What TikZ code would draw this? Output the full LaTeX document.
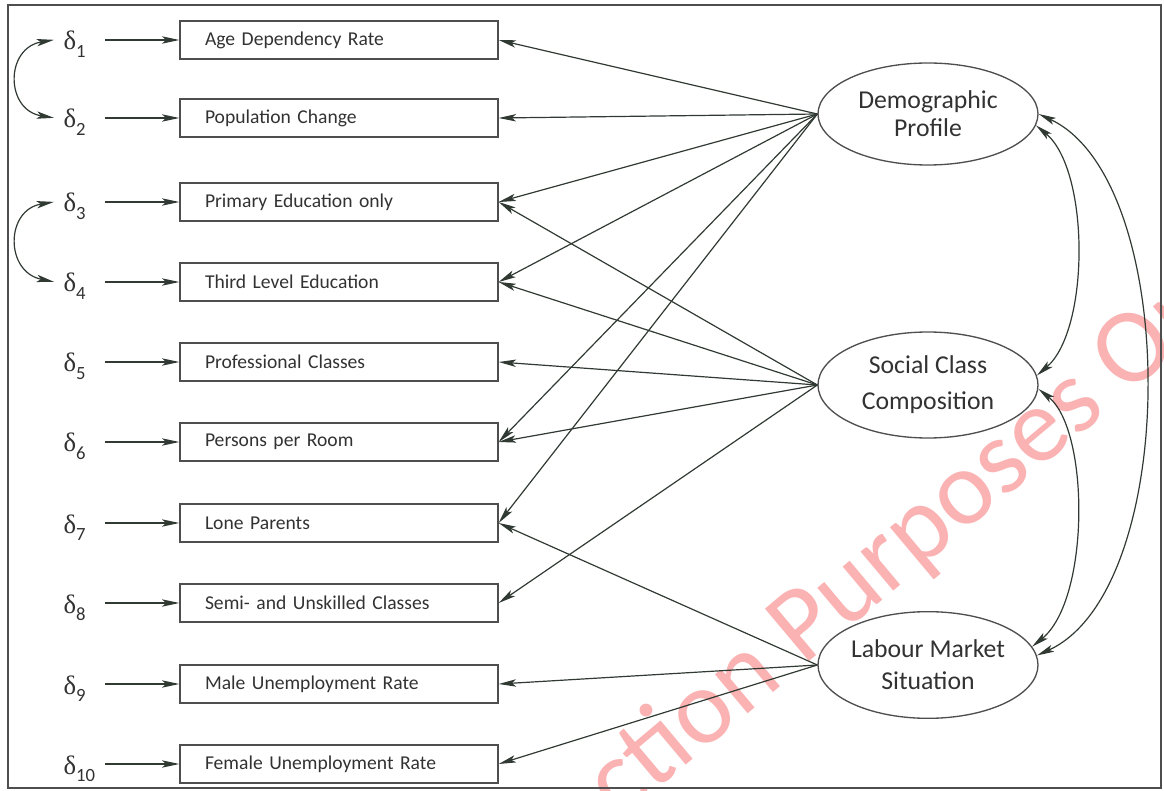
\documentclass[tikz,border=0pt]{standalone}
\usepackage{fontspec}
\setmainfont{Carlito}
\newfontfamily\dltfont{Liberation Serif}
\usepackage{tikz}
\usetikzlibrary{shapes.geometric,arrows.meta}
\definecolor{ink}{RGB}{48,58,50}
\definecolor{boxline}{RGB}{78,78,78}
\definecolor{txt}{RGB}{50,50,50}
\definecolor{wmred}{RGB}{250,178,178}
\newcommand{\errterm}[1]{{\dltfont\fontsize{20}{20}\selectfont δ}\raisebox{-5.5pt}{\fontsize{14}{14}\selectfont #1}}

\begin{document}
\begin{tikzpicture}[x=0.75pt,y=0.75pt,yscale=-1,xscale=1,
  indicator/.style={draw=boxline, line width=1pt, text width=201pt, inner xsep=18.75pt, inner ysep=0pt,
    minimum height=28.5pt, align=left, text=txt, font=\fontsize{14.7}{16}\selectfont},
  latent/.style={ellipse, draw=boxline, line width=1pt, minimum width=165pt, inner sep=0pt,
    align=center, text=txt, font=\fontsize{19.3}{24}\selectfont},
  err/.style={anchor=base west, inner xsep=7pt, inner ysep=0pt, text width=24pt, align=left, text=txt},
  path/.style={draw=ink, line width=0.9pt, -{Stealth[length=13pt,width=5.5pt,inset=3pt]}},
  cov/.style={draw=ink, line width=0.9pt, {Stealth[length=13pt,width=5.5pt,inset=3pt]}-{Stealth[length=13pt,width=5.5pt,inset=3pt]}}]
\useasboundingbox (0,0) rectangle (1164,791);

% watermark
\begin{scope}
\clip (0,0) rectangle (1164,791);
\draw (440,972) node [anchor=base west, rotate=40, text=wmred, inner sep=0pt, font=\fontsize{80}{80}\selectfont] (wm) {Inspection Purposes Only};
\end{scope}

%Shape: Frame
\draw [draw=boxline, line width=1.5pt] (8,5) rectangle (1161,788);

% Indicator boxes
\draw (339,40) node [indicator] (age) {Age Dependency Rate};
\draw (339,118) node [indicator] (pop) {Population Change};
\draw (339,202) node [indicator] (prim) {Primary Education only};
\draw (339,282) node [indicator] (third) {Third Level Education};
\draw (339,362) node [indicator] (prof) {Professional Classes};
\draw (339,442) node [indicator] (room) {Persons per Room};
\draw (339,523) node [indicator] (lone) {Lone Parents};
\draw (339,603) node [indicator] (semi) {Semi- and Unskilled Classes};
\draw (339,684) node [indicator] (male) {Male Unemployment Rate};
\draw (339,764) node [indicator] (female) {Female Unemployment Rate};

% Error terms
\draw (54,50) node [err] (d1) {\errterm{1}};
\draw (54,128) node [err] (d2) {\errterm{2}};
\draw (54,212) node [err] (d3) {\errterm{3}};
\draw (54,292) node [err] (d4) {\errterm{4}};
\draw (54,372) node [err] (d5) {\errterm{5}};
\draw (54,452) node [err] (d6) {\errterm{6}};
\draw (54,533) node [err] (d7) {\errterm{7}};
\draw (54,613) node [err] (d8) {\errterm{8}};
\draw (54,694) node [err] (d9) {\errterm{9}};
\draw (54,774) node [err] (d10) {\errterm{10}};

% Latent factors
\draw (928,114) node [latent, minimum height=76.5pt] (demo) {Demographic\\[-3pt]Profile};
\draw (928,385) node [latent, minimum height=79.5pt] (social) {Social Class\\[3pt]Composition};
\draw (928,665) node [latent, minimum height=80pt] (labour) {Labour Market\\Situation};

% Error paths
\draw [path] (d1.east |- age.west) -- (age.west);
\draw [path] (d2.east |- pop.west) -- (pop.west);
\draw [path] (d3.east |- prim.west) -- (prim.west);
\draw [path] (d4.east |- third.west) -- (third.west);
\draw [path] (d5.east |- prof.west) -- (prof.west);
\draw [path] (d6.east |- room.west) -- (room.west);
\draw [path] (d7.east |- lone.west) -- (lone.west);
\draw [path] (d8.east |- semi.west) -- (semi.west);
\draw [path] (d9.east |- male.west) -- (male.west);
\draw [path] (d10.east |- female.west) -- (female.west);

% Error covariances
\draw [cov] (d1.170) .. controls (5,48) and (5,110) .. (d2.170);
\draw [cov] (d3.170) .. controls (5,210) and (5,272) .. (d4.170);

% Loadings: Demographic Profile
\draw [path] (demo.west) -- (age.east);
\draw [path] (demo.west) -- (pop.east);
\draw [path] (demo.west) -- (prim.east);
\draw [path] (demo.west) -- (third.east);
\draw [path] (demo.west) -- (room.east);
\draw [path] (demo.west) -- (lone.east);
% Loadings: Social Class Composition
\draw [path] (social.west) -- (prim.east);
\draw [path] (social.west) -- (third.east);
\draw [path] (social.west) -- (prof.east);
\draw [path] (social.west) -- (room.east);
\draw [path] (social.west) -- (semi.east);
% Loadings: Labour Market Situation
\draw [path] (labour.west) -- (lone.east);
\draw [path] (labour.west) -- (male.east);
\draw [path] (labour.west) -- (female.east);

% Factor covariances
\draw [cov] (demo.-6) .. controls (1090,170) and (1090,330) .. (social.5);
\draw [cov] (demo.0) .. controls (1181,180) and (1181,590) .. (labour.5);
\draw [cov] (social.-2) .. controls (1090,430) and (1090,600) .. (labour.10);

\end{tikzpicture}
\end{document}
